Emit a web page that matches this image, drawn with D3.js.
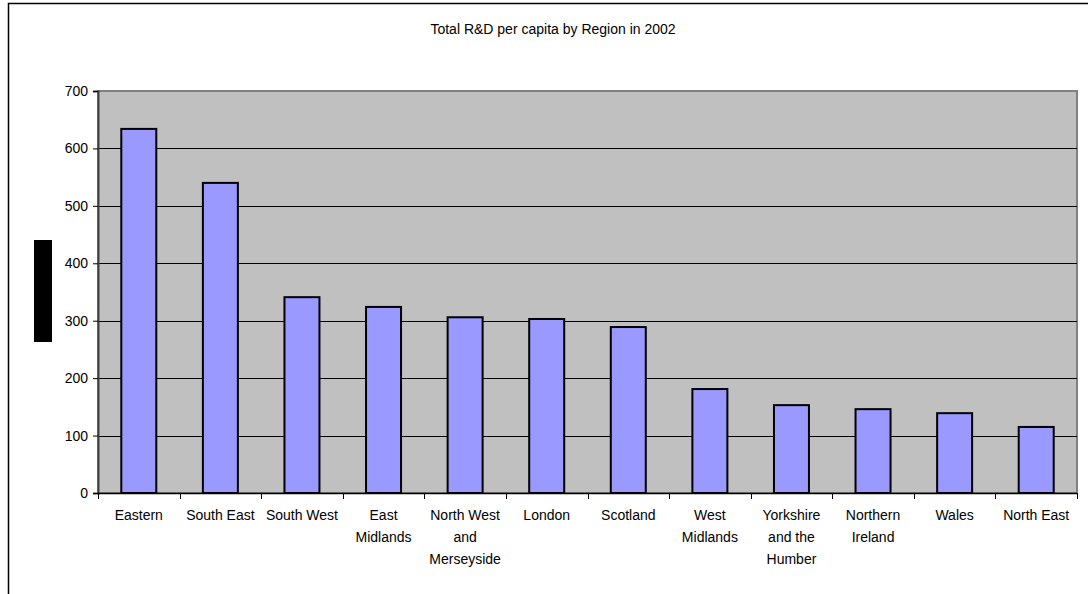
<!DOCTYPE html>
<html>
<head>
<meta charset="utf-8">
<script src="https://cdn.jsdelivr.net/npm/d3@7"></script>
<style>
  html, body { margin: 0; padding: 0; background: #fff; }
  svg { display: block; font-family: "Liberation Sans", Arial, sans-serif; }
</style>
</head>
<body>
<svg id="chart" width="1088" height="594"></svg>
<script>
const title = "Total R&D per capita by Region in 2002";
const categories = [
  ["Eastern"], ["South East"], ["South West"], ["East", "Midlands"],
  ["North West", "and", "Merseyside"], ["London"], ["Scotland"],
  ["West", "Midlands"], ["Yorkshire", "and the", "Humber"],
  ["Northern", "Ireland"], ["Wales"], ["North East"]
];
const values = [634, 540, 341, 324, 306, 303, 289, 181, 153, 146, 139, 115];
const yTicks = [0, 100, 200, 300, 400, 500, 600, 700];

const svg = d3.select("#chart");
const plot = { left: 98, right: 1077, top: 91, bottom: 493 };

// outer chart frame
svg.append("rect")
  .attr("x", 8.5).attr("y", 3.5).attr("width", 1100).attr("height", 600)
  .attr("fill", "#fff").attr("stroke", "#000").attr("stroke-width", 1.5);

const ids = categories.map((d, i) => i);
const x = d3.scaleBand().domain(ids).range([plot.left, plot.right]).paddingInner(0).paddingOuter(0);
const y = d3.scaleLinear().domain([0, 700]).range([plot.bottom, plot.top]);

// plot area
svg.append("rect")
  .attr("x", plot.left).attr("y", plot.top)
  .attr("width", plot.right - plot.left).attr("height", plot.bottom - plot.top)
  .attr("fill", "#C0C0C0").attr("stroke", "#808080").attr("stroke-width", 2);

// gridlines
svg.append("g").selectAll("line").data(yTicks.filter(t => t > 0 && t < 700)).join("line")
  .attr("x1", plot.left).attr("x2", plot.right)
  .attr("y1", d => Math.round(y(d)) + 0.5).attr("y2", d => Math.round(y(d)) + 0.5)
  .attr("stroke", "#000").attr("stroke-width", 1);

// bars
const bw = 35;
svg.append("g").selectAll("rect").data(values).join("rect")
  .attr("x", (d, i) => x(i) + x.bandwidth() / 2 - bw / 2)
  .attr("y", d => y(d))
  .attr("width", bw)
  .attr("height", d => y(0) - y(d))
  .attr("fill", "#9999FF").attr("stroke", "#000").attr("stroke-width", 2);

// y axis
const yAxis = d3.axisLeft(y).tickValues(yTicks).tickSize(5).tickPadding(5).tickFormat(d3.format("d"));
const gy = svg.append("g").attr("transform", `translate(${plot.left},0)`).call(yAxis);
gy.select(".domain").attr("stroke", "#404040").attr("stroke-width", 2);
gy.selectAll(".tick line").attr("stroke", "#000");
gy.selectAll(".tick text").attr("font-size", 14).attr("fill", "#000")
  .attr("font-family", "Liberation Sans, Arial, sans-serif");

// x axis baseline and ticks
svg.append("line")
  .attr("x1", plot.left).attr("x2", plot.right)
  .attr("y1", plot.bottom + 0.5).attr("y2", plot.bottom + 0.5)
  .attr("stroke", "#000").attr("stroke-width", 1.5);
const bounds = ids.map(i => x(i)).concat([plot.right]);
svg.append("g").selectAll("line").data(bounds).join("line")
  .attr("x1", d => Math.round(d) + 0.5).attr("x2", d => Math.round(d) + 0.5)
  .attr("y1", plot.bottom).attr("y2", plot.bottom + 6)
  .attr("stroke", "#000").attr("stroke-width", 1);

// x labels
const xl = svg.append("g").selectAll("text").data(categories).join("text")
  .attr("x", (d, i) => x(i) + x.bandwidth() / 2)
  .attr("y", 520)
  .attr("text-anchor", "middle")
  .attr("font-size", 14).attr("fill", "#000");
xl.each(function(lines) {
  const t = d3.select(this);
  lines.forEach((ln, j) => {
    t.append("tspan").attr("x", t.attr("x")).attr("dy", j === 0 ? 0 : 22).text(ln);
  });
});

// title
svg.append("text")
  .attr("x", 553).attr("y", 34)
  .attr("text-anchor", "middle")
  .attr("font-size", 14).attr("fill", "#000")
  .text(title);

// obscured y-axis title block
svg.append("rect")
  .attr("x", 34).attr("y", 240).attr("width", 18).attr("height", 102)
  .attr("fill", "#000");
</script>
</body>
</html>
